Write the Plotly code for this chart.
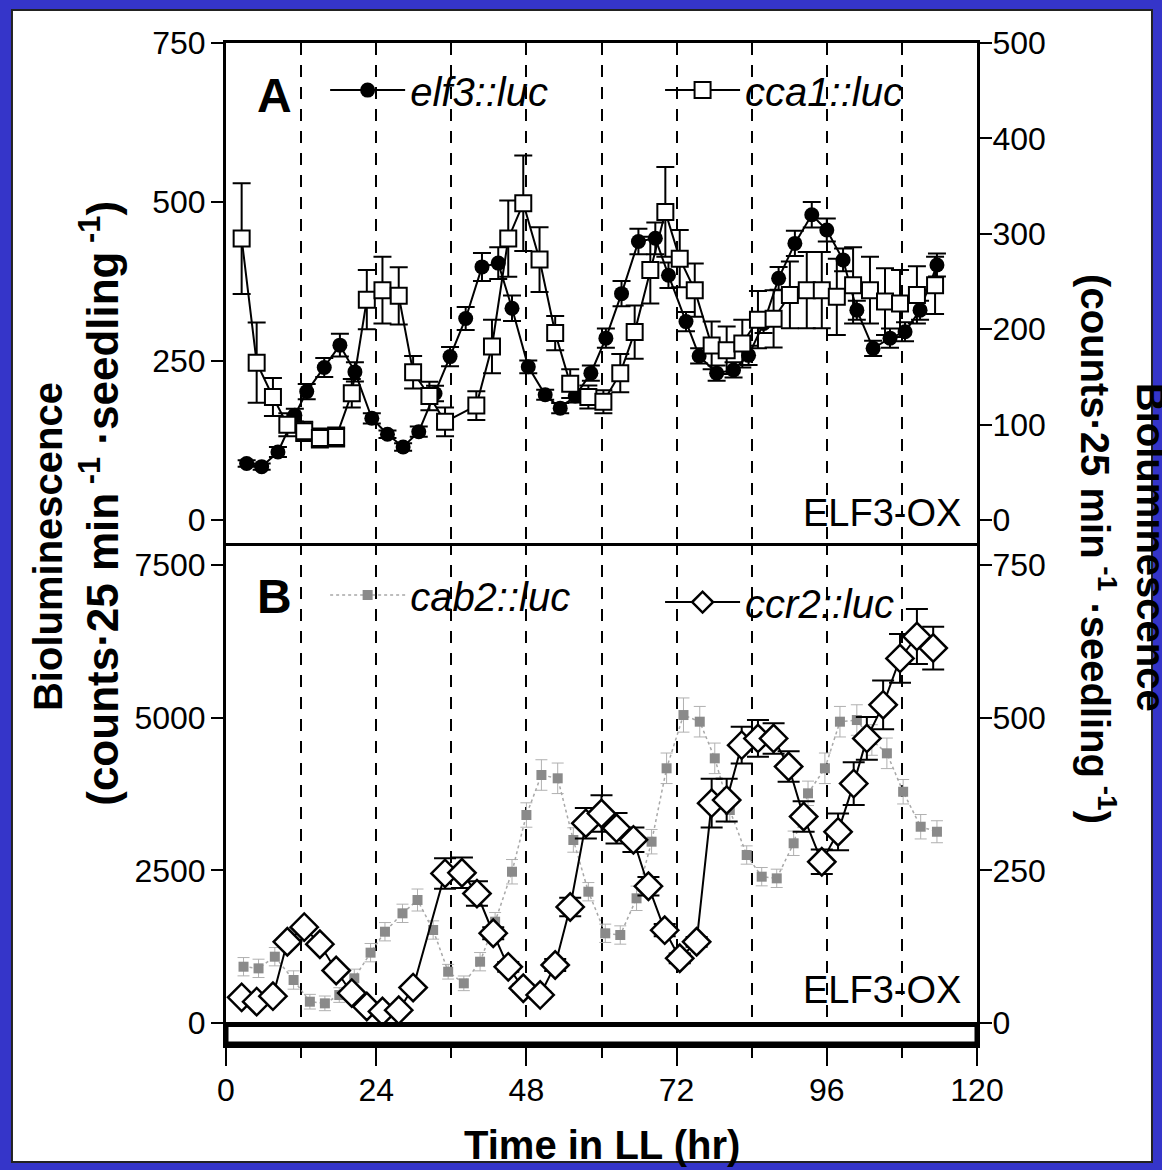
import plotly.graph_objects as go

# ---------------- Panel A : elf3::luc (left axis) ----------------
elf3_t = [3.3, 5.7, 8.3, 11.0, 12.9, 15.7, 18.2, 20.6, 23.3, 25.8, 28.3, 30.8, 33.4, 35.8, 38.3,
          40.9, 43.5, 45.7, 48.3, 51.0, 53.4, 55.8, 58.3, 60.7, 63.2, 65.9, 68.6, 70.7, 73.5, 75.6,
          78.4, 81.1, 83.5, 85.9, 88.3, 90.9, 93.6, 96.0, 98.6, 100.8, 103.4, 106.1, 108.5, 110.9, 113.6]
elf3_v = [89, 84, 107, 165, 202, 240, 275, 233, 160, 135, 115, 139, 199, 257, 317,
          398, 404, 333, 241, 197, 176, 195, 231, 286, 356, 438, 443, 385, 312, 258,
          231, 236, 259, 309, 380, 435, 480, 456, 409, 330, 270, 286, 296, 330, 401]
elf3_err = [5, 5, 8, 10, 12, 15, 18, 15, 8, 6, 6, 8, 12, 15, 18,
            22, 25, 20, 10, 8, 8, 10, 12, 15, 20, 20, 25, 20, 15, 12,
            12, 12, 15, 15, 18, 20, 20, 18, 18, 15, 12, 15, 15, 15, 18]

# ---------------- Panel A : cca1::luc (right axis) ----------------
cca1_t = [2.5, 4.9, 7.5, 9.8, 12.5, 15.0, 17.6, 20.1, 22.5, 25.0, 27.6, 29.9, 32.5, 35.0, 40.0,
          42.5, 45.1, 47.5, 50.1, 52.6, 55.0, 57.9, 60.3, 63.0, 65.3, 67.8, 70.2, 72.5, 74.9, 77.6,
          80.0, 82.5, 85.0, 87.5, 90.1, 92.8, 95.2, 97.6, 100.2, 102.9, 105.3, 107.7, 110.4, 113.3]
cca1_v = [295, 165, 129, 100, 93, 86, 87, 133, 231, 241, 235, 155, 130, 103, 120,
          182, 295, 332, 273, 196, 143, 129, 124, 154, 197, 262, 323, 274, 241, 183,
          178, 185, 210, 211, 236, 241, 241, 234, 246, 241, 229, 227, 236, 246]
cca1_err = [58, 42, 20, 12, 10, 10, 10, 15, 31, 35, 30, 17, 15, 15, 15,
            28, 40, 50, 34, 18, 15, 12, 12, 20, 28, 35, 47, 30, 28, 25,
            25, 25, 30, 30, 35, 40, 40, 40, 40, 35, 35, 35, 30, 30]

# ---------------- Panel B : cab2::luc (left axis) ----------------
cab2_t = [2.8, 5.2, 7.8, 10.8, 13.4, 15.8, 18.1, 20.5, 23.1, 25.4, 28.2, 30.6, 33.1, 35.5, 38.0,
          40.6, 43.0, 45.7, 48.0, 50.4, 53.0, 55.5, 57.9, 60.6, 63.0, 65.6, 68.0, 70.4, 73.1, 75.7,
          78.1, 80.5, 83.2, 85.6, 88.0, 90.7, 93.0, 95.7, 98.1, 100.8, 103.2, 105.6, 108.2, 111.0, 113.6]
cab2_v = [922, 895, 1086, 704, 349, 322, 458, 732, 1152, 1495, 1796, 2014, 1523, 840, 650,
          1004, 1659, 2477, 3406, 4061, 4007, 2997, 2150, 1469, 1441, 2042, 2969, 4171, 5043, 4934,
          4334, 3488, 2751, 2396, 2369, 2943, 3761, 4171, 4934, 4961, 4634, 4416, 3787, 3214, 3132]
cab2_err = [150, 150, 150, 150, 120, 120, 120, 150, 150, 150, 150, 180, 150, 120, 120,
            150, 150, 200, 200, 250, 250, 200, 150, 150, 150, 200, 200, 250, 280, 250,
            250, 200, 150, 150, 150, 200, 200, 250, 250, 250, 250, 250, 200, 200, 180]

# ---------------- Panel B : ccr2::luc (right axis) ----------------
ccr2_t = [2.5, 4.9, 7.5, 9.8, 12.5, 15.0, 17.6, 20.1, 22.5, 25.0, 27.6, 29.9, 35.0, 37.7, 40.1,
          42.7, 45.1, 47.5, 50.2, 52.6, 55.0, 57.5, 60.0, 62.4, 65.1, 67.5, 70.1, 72.5, 75.2, 77.6,
          80.0, 82.4, 85.0, 87.5, 89.9, 92.3, 95.2, 97.8, 100.3, 102.4, 105.0, 107.7, 110.4, 113.0]
ccr2_v = [42, 35, 44, 133, 157, 129, 86, 49, 27, 19, 21, 58, 245, 246, 212,
          147, 92, 57, 46, 95, 190, 327, 343, 319, 300, 224, 152, 106, 133, 360,
          365, 455, 466, 466, 420, 338, 264, 313, 392, 466, 521, 597, 633, 614]
ccr2_err = [3, 3, 3, 5, 5, 5, 4, 3, 3, 3, 3, 4, 25, 25, 20,
            10, 8, 6, 6, 10, 15, 25, 30, 25, 20, 15, 10, 8, 8, 40,
            35, 30, 30, 25, 25, 25, 20, 30, 35, 35, 40, 40, 45, 35]

x_ticks = [0, 24, 48, 72, 96, 120]
light_period = [0, 120]          # constant light (LL) bar under panel B
genotype = "ELF3-OX"

FONT = "Liberation Sans, Arial, Helvetica, sans-serif"
BLUE = "#3535C9"

fig = go.Figure()

fig.add_trace(go.Scatter(
    x=elf3_t, y=elf3_v, mode="lines+markers", name="elf3::luc",
    xaxis="x2", yaxis="y", legend="legend",
    line=dict(color="black", width=2),
    marker=dict(symbol="circle", size=15, color="black"),
    error_y=dict(type="data", array=elf3_err, color="black", thickness=2, width=9)))

fig.add_trace(go.Scatter(
    x=cca1_t, y=cca1_v, mode="lines+markers", name="cca1::luc",
    xaxis="x2", yaxis="y2", legend="legend2",
    line=dict(color="black", width=2),
    marker=dict(symbol="square", size=16, color="white", line=dict(color="black", width=2)),
    error_y=dict(type="data", array=cca1_err, color="black", thickness=2, width=9)))

fig.add_trace(go.Scatter(
    x=cab2_t, y=cab2_v, mode="lines+markers", name="cab2::luc",
    xaxis="x", yaxis="y3", legend="legend3",
    line=dict(color="#a8a8a8", width=1.5, dash="dot"),
    marker=dict(symbol="square", size=10, color="#8a8a8a"),
    error_y=dict(type="data", array=cab2_err, color="#b0b0b0", thickness=1, width=6)))

fig.add_trace(go.Scatter(
    x=ccr2_t, y=ccr2_v, mode="lines+markers", name="ccr2::luc",
    xaxis="x", yaxis="y4", legend="legend4",
    line=dict(color="black", width=2),
    marker=dict(symbol="diamond", size=21, color="white", line=dict(color="black", width=2.5)),
    error_y=dict(type="data", array=ccr2_err, color="black", thickness=2, width=11)))

tickfont = dict(family=FONT, size=32, color="black")
grid = dict(showgrid=True, gridcolor="black", gridwidth=1.5, griddash="12px,10px")
yax = dict(ticks="outside", ticklen=12, tickwidth=2, tickcolor="black", showline=True,
           linecolor="black", linewidth=3, showgrid=False, zeroline=False, tickfont=tickfont)
yl = dict(ticklabelstandoff=-1, **yax)
yr = dict(ticklabelstandoff=-6, **yax)

fig.update_layout(
    width=1162, height=1170,
    margin=dict(l=226, r=185, t=43, b=125),
    paper_bgcolor=BLUE, plot_bgcolor="white",
    font=dict(family=FONT, color="black"),
    showlegend=True,
    xaxis=dict(domain=[0, 1], anchor="y3", range=[0, 120], tickvals=x_ticks,
               ticks="outside", ticklen=18, tickwidth=2, tickcolor="black",
               showline=True, linecolor="black", linewidth=3, zeroline=False,
               tickfont=tickfont, ticklabelstandoff=-3,
               minor=dict(dtick=12, tick0=0, ticks="outside", ticklen=10, tickwidth=2,
                          tickcolor="black", **grid),
               **grid),
    xaxis2=dict(domain=[0, 1], anchor="y", range=[0, 120], dtick=12, tick0=0,
                showticklabels=False, ticks="", showline=True, mirror=True,
                linecolor="black", linewidth=3, zeroline=False, **grid),
    yaxis=dict(domain=[0.501, 1], anchor="x2", range=[-36, 750], tickvals=[0, 250, 500, 750], **yl),
    yaxis2=dict(overlaying="y", side="right", anchor="x2", range=[-24, 500],
                tickvals=[0, 100, 200, 300, 400, 500], **yr),
    yaxis3=dict(domain=[0, 0.501], anchor="x", range=[-360, 7860],
                tickvals=[0, 2500, 5000, 7500], **yl),
    yaxis4=dict(overlaying="y3", side="right", anchor="x", range=[-36, 786],
                tickvals=[0, 250, 500, 750], **yr),
)

leg = dict(bgcolor="rgba(0,0,0,0)", borderwidth=0, xanchor="left", yanchor="middle",
           itemwidth=75,
           font=dict(family=FONT, size=40, style="italic", color="black"))
fig.update_layout(
    legend=dict(x=0.132, y=0.953, **leg),
    legend2=dict(x=0.578, y=0.953, **leg),
    legend3=dict(x=0.132, y=0.449, **leg),
    legend4=dict(x=0.578, y=0.442, **leg),
)

# white page inside the blue frame
fig.add_shape(type="rect", xref="paper", yref="paper", layer="below",
              x0=-0.285, x1=1.233, y0=-0.1168, y1=1.033,
              fillcolor="white", line=dict(color="#222222", width=2))

# LL light bar
fig.add_shape(type="rect", xref="x", yref="y3", layer="above",
              x0=light_period[0], x1=light_period[1], y0=-345, y1=-25,
              fillcolor="white", line=dict(color="black", width=5))

ann = []
ann.append(dict(text="<b>A</b>", x=0.064, y=0.948, xref="paper", yref="paper",
                showarrow=False, xanchor="center", yanchor="middle",
                font=dict(family=FONT, size=48, color="black")))
ann.append(dict(text="<b>B</b>", x=0.064, y=0.448, xref="paper", yref="paper",
                showarrow=False, xanchor="center", yanchor="middle",
                font=dict(family=FONT, size=48, color="black")))
for yy in (0.508, 0.032):
    ann.append(dict(text=genotype, x=0.981, y=yy, xref="paper", yref="paper",
                    showarrow=False, xanchor="right", yanchor="bottom",
                    font=dict(family=FONT, size=38, color="black")))
ann.append(dict(text="<b>Time in LL (hr)</b>", x=0.5, y=-0.100, xref="paper", yref="paper",
                showarrow=False, xanchor="center", yanchor="middle",
                font=dict(family=FONT, size=40, color="black")))
title1 = "<b>Bioluminescence</b>"
title2 = "<b>(counts·25 min<sup> -1</sup> ·seedling<sup> -1</sup>)</b>"
ann.append(dict(text=title1, x=-0.237, y=0.497, xref="paper", yref="paper", textangle=-90,
                showarrow=False, xanchor="center", yanchor="middle",
                font=dict(family=FONT, size=40, color="black")))
ann.append(dict(text=title2, x=-0.168, y=0.541, xref="paper", yref="paper", textangle=-90,
                showarrow=False, xanchor="center", yanchor="middle",
                font=dict(family=FONT, size=44, color="black")))
ann.append(dict(text=title1, x=1.232, y=0.497, xref="paper", yref="paper", textangle=90,
                showarrow=False, xanchor="center", yanchor="middle",
                font=dict(family=FONT, size=40, color="black")))
ann.append(dict(text=title2, x=1.161, y=0.495, xref="paper", yref="paper", textangle=90,
                showarrow=False, xanchor="center", yanchor="middle",
                font=dict(family=FONT, size=40, color="black")))
fig.update_layout(annotations=ann)

fig.write_html("out.html", config={"displayModeBar": False},
               post_script="document.body.style.margin='0px';")
